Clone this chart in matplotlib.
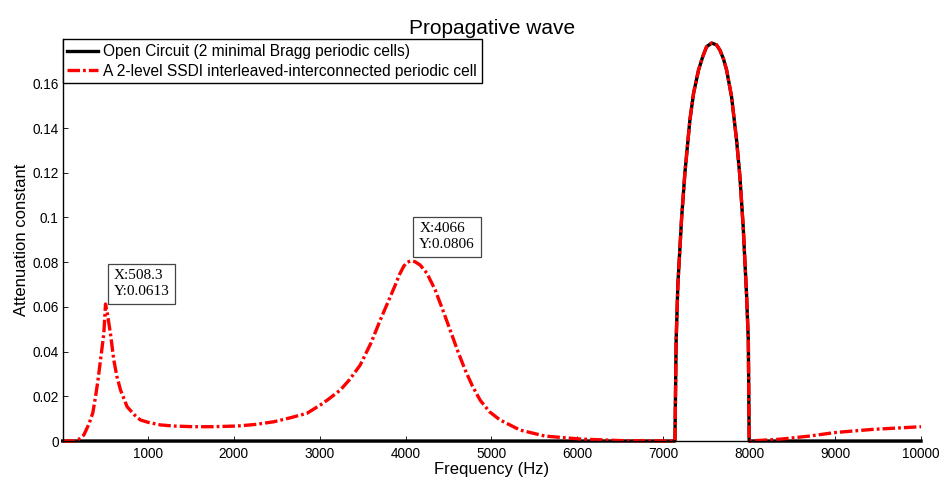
import matplotlib
matplotlib.use("Agg")
import matplotlib.pyplot as plt
import numpy as np

plt.rcParams['font.family'] = ['Liberation Sans', 'DejaVu Sans']
plt.rcParams['lines.scale_dashes'] = False

# ---- data ----
band_f = [7136, 7150, 7170, 7214, 7252, 7310, 7353, 7411, 7460, 7505, 7563, 7620,
          7659, 7700, 7737, 7795, 7853, 7892, 7930, 7970, 7990, 8000]
band_a = [0.0, 0.045, 0.070, 0.100, 0.120, 0.1436, 0.1556, 0.166, 0.172, 0.1764, 0.178, 0.1772,
          0.1749, 0.171, 0.166, 0.154, 0.1347, 0.1183, 0.096, 0.065, 0.045, 0.0]

oc_low_f = [10, 7136]
oc_low_a = [0.0, 0.0]
oc_high_f = [8000, 10000]
oc_high_a = [0.0, 0.0]

ssdi_low_f = [10, 140, 200, 256, 314, 360, 392, 420, 450, 489, 508.3, 530, 566, 605, 640, 683,
              760, 850, 915, 1000, 1148, 1300, 1532, 1750, 2040, 2250, 2465, 2650, 2853, 3008,
              3100, 3241, 3350, 3473, 3600, 3706, 3800, 3880, 3930, 3980, 4020, 4066, 4110,
              4171, 4250, 4345, 4430, 4519, 4610, 4694, 4780, 4868, 4980, 5101, 5333,
              5624, 6031, 6496, 7136]
ssdi_low_a = [0.0, 0.0, 0.0008, 0.0027, 0.0075, 0.0125, 0.0198, 0.027, 0.0362, 0.0482, 0.0613,
              0.057, 0.048, 0.0362, 0.029, 0.0228, 0.0153, 0.0115, 0.0094, 0.0084, 0.0072,
              0.0067, 0.0064, 0.0064, 0.0067, 0.0074, 0.0086, 0.0103, 0.0124, 0.0161,
              0.0186, 0.0228, 0.0275, 0.034, 0.044, 0.0541, 0.0625, 0.0697, 0.0745, 0.0782,
              0.0800, 0.0806, 0.0802, 0.0787, 0.0750, 0.0676, 0.0590, 0.0497, 0.0400, 0.0318,
              0.0245, 0.0183, 0.0130, 0.0094, 0.0049, 0.0022, 0.0009, 0.0002, 0.0]
ssdi_high_f = [8000, 8357, 8700, 9000, 9437, 10000]
ssdi_high_a = [0.0, 0.0008, 0.0022, 0.0038, 0.0052, 0.0064]

xticks = [1000, 2000, 3000, 4000, 5000, 6000, 7000, 8000, 9000, 10000]
yticks = [0, 0.02, 0.04, 0.06, 0.08, 0.1, 0.12, 0.14, 0.16]
ytick_labels = ['0', '0.02', '0.04', '0.06', '0.08', '0.1', '0.12', '0.14', '0.16']

tips = [(508.3, 0.0613), (4066, 0.0806)]
tip_labels = ['X:508.3\nY:0.0613', 'X:4066\nY:0.0806']
tip_offsets = [(8, 6), (8, 10)]

label_oc = 'Open Circuit (2 minimal Bragg periodic cells)'
label_ssdi = 'A 2-level SSDI interleaved-interconnected periodic cell'

# ---- figure ----
fig = plt.figure(figsize=(9.4, 4.79), dpi=100)
ax = fig.add_axes([0.0667, 0.0793, 0.9131, 0.8387])

oc_f = oc_low_f + band_f + oc_high_f
oc_a = oc_low_a + band_a + oc_high_a
ssdi_f = ssdi_low_f + band_f + ssdi_high_f
ssdi_a = ssdi_low_a + band_a + ssdi_high_a

l1, = ax.plot(oc_f, oc_a, color='black', lw=2.4, label=label_oc, clip_on=False,
              solid_joinstyle='round')
l2, = ax.plot(ssdi_f, ssdi_a, color='red', lw=2.4, label=label_ssdi, clip_on=False,
              dashes=(9, 2.2, 2, 2.2))

ax.set_xlim(10, 10000)
ax.set_ylim(0, 0.1797)
ax.set_xticks(xticks)
ax.set_xticklabels([str(t) for t in xticks])
ax.set_yticks(yticks)
ax.set_yticklabels(ytick_labels)
ax.tick_params(direction='in', length=3.5, labelsize=9.8, width=0.6, colors='black')
ax.tick_params(axis='x', pad=4)
ax.tick_params(axis='y', pad=3)
for s in ['top', 'right']:
    ax.spines[s].set_visible(False)
for s in ['left', 'bottom']:
    ax.spines[s].set_linewidth(1.0)

ax.set_xlabel('Frequency (Hz)', fontsize=12, labelpad=1)
ax.set_ylabel('Attenuation constant', fontsize=12, labelpad=2)
ax.set_title('Propagative wave', fontsize=15, pad=4)

leg = ax.legend(loc='upper left', bbox_to_anchor=(0, 1), borderaxespad=0, fontsize=11.2,
                fancybox=False, framealpha=1, edgecolor='black', handlelength=2.0,
                handletextpad=0.3, borderpad=0.3, labelspacing=0.3)
leg.get_frame().set_linewidth(1.0)

for (fx, fy), txt, off in zip(tips, tip_labels, tip_offsets):
    ax.annotate(txt, xy=(fx, fy), xytext=off, textcoords='offset pixels',
                ha='left', va='bottom', fontsize=11, family='Liberation Serif',
                linespacing=1.25,
                bbox=dict(boxstyle='square,pad=0.38', fc='white', ec='#444444', lw=0.9))

fig.savefig('out.png', dpi=100)
